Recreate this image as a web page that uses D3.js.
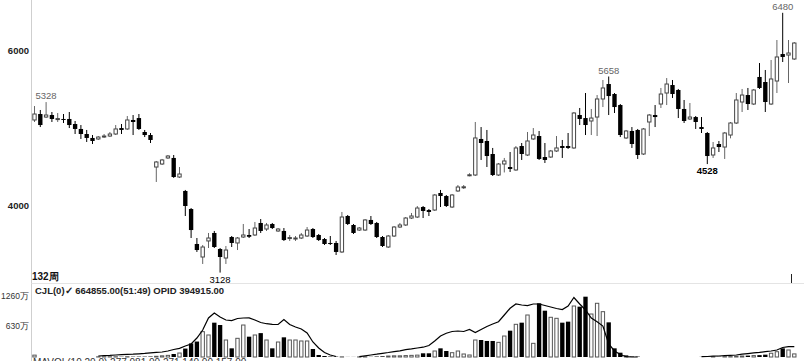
<!DOCTYPE html>
<html><head><meta charset="utf-8">
<script src="https://cdn.jsdelivr.net/npm/d3@7"></script>
<style>
html,body{margin:0;padding:0;background:#fff;}
svg{display:block;font-family:"Liberation Sans",Arial,sans-serif;}
</style></head>
<body>
<script>
const weeks = Array.from({length:132},(_,i)=>"W"+(i+1));
const openP = [5097,5174,5135,5161,5105,5110,5110,5045,4981,4916,
 4865,4852,4877,4890,4916,4993,4981,5097,5122,4942,
 4903,4490,4529,4607,4607,4361,4181,3948,3497,3329,
 3536,3639,3432,3316,3587,3510,3587,3613,3613,3768,
 3690,3755,3665,3665,3570,3561,3574,3600,3690,3613,
 3561,3510,3510,3394,3858,3742,3677,3677,3807,3768,
 3587,3458,3600,3716,3742,3832,3845,3974,3935,3935,
 4155,4116,3974,4181,4225,4380,4387,4852,4826,4658,
 4387,4529,4490,4452,4761,4645,4852,4890,4619,4619,
 4697,4761,4761,4736,5161,5122,5084,5135,5368,5561,
 5432,5290,4865,4955,4968,4658,5071,5161,5303,5445,
 5548,5484,5239,5110,5135,5006,4929,4645,4787,4748,
 4903,5058,5329,5419,5303,5652,5587,5303,5600,5948,
 5935,5884];
const highP = [5277,5226,5328,5200,5187,5174,5200,5084,5032,4968,
 4903,4890,4916,4942,5032,5045,5148,5161,5174,4968,
 4929,4568,4594,4645,4645,4490,4194,3961,3574,3484,
 3639,3665,3445,3471,3600,3587,3755,3690,3781,3819,
 3768,3768,3703,3703,3613,3600,3639,3716,3703,3626,
 3574,3600,3536,3910,3871,3755,3716,3819,3858,3781,
 3600,3613,3729,3768,3845,3897,3987,3987,3948,4142,
 4194,4129,4142,4258,4258,4410,5071,5006,4968,4736,
 4542,4607,4684,4761,4800,4942,4993,4955,4800,4710,
 4890,4839,4929,5200,5252,5445,5239,5419,5613,5658,
 5445,5303,4968,5006,4981,4993,5174,5290,5510,5638,
 5613,5497,5355,5316,5148,5135,4942,4813,4826,4942,
 5071,5445,5497,5510,5497,5832,5742,5871,6129,6480,
 6129,6103];
const lowP = [5071,5006,5122,5071,5071,5058,4993,4916,4852,4813,
 4787,4839,4865,4877,4903,4916,4968,4903,4968,4877,
 4800,4297,4516,4594,4350,4348,3858,3574,3394,3239,
 3445,3445,3128,3239,3458,3419,3574,3574,3600,3639,
 3665,3690,3652,3536,3536,3536,3561,3587,3574,3536,
 3484,3484,3355,3381,3742,3626,3665,3665,3742,3574,
 3458,3445,3587,3703,3729,3819,3832,3832,3858,3923,
 3974,3974,3961,4168,4207,4370,4374,4581,4490,4374,
 4374,4420,4426,4440,4581,4632,4839,4581,4542,4607,
 4684,4607,4723,4723,5032,4903,4903,4890,5264,5161,
 5187,4877,4852,4736,4594,4645,4890,5006,5252,5290,
 5381,5122,5058,5097,4981,4929,4528,4607,4684,4594,
 4860,5045,5200,5226,5290,5497,5200,5290,5445,5845,
 5574,5871];
const closeP = [5174,5032,5161,5110,5115,5100,5032,4981,4916,4865,
 4826,4877,4890,4916,4981,4968,5097,5071,4981,4903,
 4839,4555,4581,4632,4361,4400,3987,3677,3419,3458,
 3574,3458,3329,3419,3510,3574,3613,3590,3703,3665,
 3742,3703,3690,3548,3580,3574,3613,3677,3587,3548,
 3497,3500,3394,3845,3755,3639,3703,3807,3755,3587,
 3471,3600,3716,3742,3832,3858,3961,3923,3910,4129,
 4116,3987,4129,4232,4235,4390,4865,4800,4632,4387,
 4529,4568,4465,4736,4658,4826,4903,4594,4581,4697,
 4736,4736,4736,5187,5110,5032,5122,5368,5510,5406,
 5264,4903,4955,4787,4645,4981,5161,5135,5432,5561,
 5432,5239,5084,5135,5071,4981,4632,4736,4748,4929,
 5058,5355,5419,5303,5484,5510,5329,5626,5910,5910,
 5961,6090];
// volume in 万
const volume = [40,0,0,0,0,0,0,0,0,0,
 0,4,4,5,5,6,6,7,8,8,
 10,15,25,35,64,85,180,290,330,541,
 470,733,683,363,185,399,683,434,470,510,
 363,185,320,420,363,363,342,342,171,43,
 21,10,8,3,2,2,2,3,4,10,
 15,20,25,25,30,35,40,79,79,128,
 185,128,92,128,64,43,363,363,342,342,
 313,448,562,698,733,897,292,1147,989,848,
 826,733,755,1089,1075,1288,918,1147,968,740,
 185,92,30,10,8,0,0,0,0,0,
 0,0,0,0,0,3,4,4,5,6,
 8,15,21,30,30,40,50,80,113,185,
 150,66];
// open interest in 万
const openInterest = [null,null,null,null,null,null,null,null,null,null,
 null,3.8,5.0,6.1,7.7,8.8,10.0,10.7,12.3,13.8,
 16.1,17.6,19.2,23.0,28.7,33.3,42.1,49.8,72.8,103.4,
 149.4,168.5,153.2,141.7,139.4,147.5,149.4,150.1,141.7,132.1,
 127.5,125.2,124.5,143.6,124.5,114.9,107.2,91.9,57.5,34.5,
 17.2,7.7,1.9,null,null,null,1.1,4.6,7.7,10.7,
 14.2,17.2,20.7,23.7,28.0,31.0,34.5,37.5,44.0,61.3,
 80.4,90.8,97.7,99.6,97.7,105.3,93.8,105.3,116.8,126.4,
 135.2,160.9,186.5,203.0,199.2,197.2,203.0,203.0,197.2,191.5,
 185.8,181.9,195.3,227.9,203.0,180.0,149.4,135.2,118.7,49.8,
 23.0,9.6,1.1,0,0,null,null,null,null,null,
 null,null,null,null,null,1.1,1.9,3.1,3.8,5.4,
 6.5,7.7,10.7,13.0,15.7,17.6,20.3,23.0,26.8,36.4,
 39.4,39.5];
const priceTicks = [4000, 6000];
const volTicks = [630, 1260];
const markHighs = [2, 99, 129];
const markLows = [32, 116];
const headerText = "CJL(0)\u2713 664855.00(51:49)  OPID 394915.00";
const periodText = "132周";

const W = 804, H = 361;
const svg = d3.select("body").append("svg").attr("width", W).attr("height", H);

const x = d3.scaleBand().domain(weeks).range([31.6, 797.2]).paddingInner(0.25).paddingOuter(0.125);
const yP = d3.scaleLinear().domain([4000, 6000]).range([205, 50]);
const yV = d3.scaleLinear().domain([0, 1260]).range([357, 298]);
const yOI = d3.scaleLinear().domain([0, 226]).range([357, 298]);
const cx = i => x(weeks[i]) + x.bandwidth() / 2;
const bw = x.bandwidth();

// frame lines
svg.append("line").attr("x1", 31.5).attr("x2", 31.5).attr("y1", 0).attr("y2", H).attr("stroke", "#cfcfcf");
svg.append("line").attr("x1", 31.5).attr("x2", W).attr("y1", 283.5).attr("y2", 283.5).attr("stroke", "#e4e4e4");

// price axis
const ga = svg.append("g").attr("transform", "translate(31,0)")
  .call(d3.axisLeft(yP).tickValues(priceTicks).tickSize(0).tickPadding(2).tickFormat(d3.format("d")));
ga.select(".domain").remove();
ga.selectAll("text").attr("font-size", 9.5).attr("font-weight", "bold").attr("fill", "#222")
  .attr("font-family", "Liberation Sans, Arial, sans-serif");

// volume axis
const gv = svg.append("g").attr("transform", "translate(31,0)")
  .call(d3.axisLeft(yV).tickValues(volTicks).tickSize(0).tickPadding(2).tickFormat(d => d + "万"));
gv.select(".domain").remove();
gv.selectAll("text").attr("font-size", 8.5).attr("fill", "#333").attr("dy", "0.1em")
  .attr("font-family", "Liberation Sans, Arial, sans-serif");

const idx = d3.range(weeks.length);

// candles
const cg = svg.append("g");
idx.forEach(i => {
  const up = closeP[i] >= openP[i];
  const col = up ? "#444" : "#000";
  cg.append("line").attr("x1", cx(i)).attr("x2", cx(i))
    .attr("y1", yP(highP[i])).attr("y2", yP(lowP[i]))
    .attr("stroke", up ? "#666" : "#000").attr("stroke-width", 1);
  const top = yP(Math.max(openP[i], closeP[i]));
  const bot = yP(Math.min(openP[i], closeP[i]));
  const h = Math.max(1, bot - top);
  if (up) {
    cg.append("rect").attr("x", x(weeks[i]) + 0.5).attr("y", top).attr("width", bw - 1).attr("height", h)
      .attr("fill", "#fff").attr("stroke", col).attr("stroke-width", 1);
  } else {
    cg.append("rect").attr("x", x(weeks[i])).attr("y", top).attr("width", bw).attr("height", h)
      .attr("fill", "#000");
  }
});

// high/low marks
markHighs.forEach(i => {
  svg.append("text").attr("x", cx(i)).attr("y", yP(highP[i]) - 3).attr("text-anchor", "middle")
    .attr("font-size", 9.5).attr("fill", "#666").text(highP[i]);
});
markLows.forEach(i => {
  svg.append("text").attr("x", cx(i)).attr("y", yP(lowP[i]) + 10).attr("text-anchor", "middle")
    .attr("font-size", 9.5).attr("fill", "#000").attr("font-weight", i === 116 ? "bold" : "normal").text(lowP[i]);
});

svg.append("text").attr("x", 32).attr("y", 280).attr("font-size", 10).attr("font-weight", "bold")
  .attr("fill", "#111").text(periodText);

// cursor marker
svg.append("line").attr("x1", cx(130) + 3).attr("x2", cx(130) + 3).attr("y1", 274).attr("y2", 283)
  .attr("stroke", "#222");

// volume bars
const vg = svg.append("g");
idx.forEach(i => {
  const up = closeP[i] >= openP[i];
  const top = yV(volume[i]);
  const h = yV(0) - top;
  if (h <= 0) return;
  if (up) {
    vg.append("rect").attr("x", x(weeks[i]) + 0.5).attr("y", top).attr("width", bw - 1).attr("height", h)
      .attr("fill", "#fff").attr("stroke", "#555").attr("stroke-width", 1);
  } else {
    vg.append("rect").attr("x", x(weeks[i])).attr("y", top).attr("width", bw).attr("height", h)
      .attr("fill", "#000");
  }
});

// open interest line
const line = d3.line().defined(i => openInterest[i] !== null).x(i => cx(i)).y(i => yOI(openInterest[i]));
svg.append("path").datum(idx).attr("d", line).attr("fill", "none").attr("stroke", "#000").attr("stroke-width", 1.2);

svg.append("text").attr("x", 35).attr("y", 294).attr("font-size", 9.5).attr("font-weight", "bold")
  .attr("fill", "#222").text(headerText);

svg.append("text").attr("x", 33).attr("y", 366).attr("font-size", 10).attr("fill", "#333")
  .text("MAVOL(10,20,0)     277,081.00     271,140.00     157.00");
</script>
</body></html>
